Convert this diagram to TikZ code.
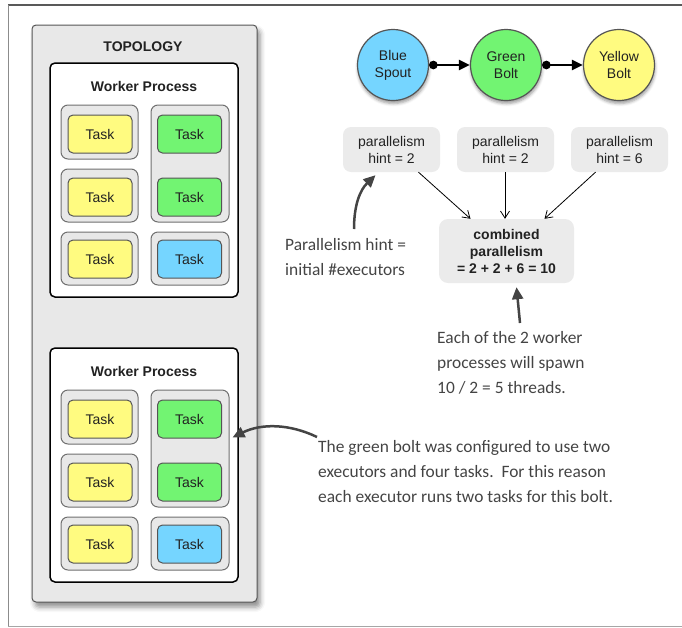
\documentclass[tikz,border=0pt]{standalone}
\usepackage{fontspec}
\setmainfont{Liberation Sans}
\newfontfamily\handfont{Carlito}
\usetikzlibrary{shadows,shadows.blur,arrows.meta}
\definecolor{boxgray}{HTML}{E8E8E8}
\definecolor{hintgray}{HTML}{EBEBEB}
\definecolor{taskyellow}{HTML}{FFFB80}
\definecolor{taskgreen}{HTML}{72F472}
\definecolor{taskblue}{HTML}{75D5FF}
\definecolor{edgegray}{HTML}{555555}
\definecolor{execedge}{HTML}{707070}
\definecolor{handgray}{HTML}{444444}
\definecolor{textdark}{HTML}{222222}
\tikzset{
  topo/.style={draw=edgegray, line width=1pt, fill=boxgray, rounded corners=4pt,
    minimum width=225pt, minimum height=577pt, inner sep=0pt,
    blur shadow={shadow xshift=3pt, shadow yshift=-5pt, shadow blur radius=5pt, shadow opacity=45}},
  wpbox/.style={draw=black, line width=1.5pt, fill=white, rounded corners=5pt,
    minimum width=188pt, minimum height=234pt, inner sep=0pt},
  titletext/.style={font=\fontsize{14}{17}\selectfont\bfseries, text=textdark, inner sep=0pt},
  execbox/.style={draw=execedge, line width=1pt, fill=boxgray, rounded corners=7pt,
    inner sep=0pt},
  taskbox/.style={draw=edgegray, line width=1pt, rounded corners=5pt,
    minimum width=64pt, minimum height=38pt, inner sep=0pt,
    font=\fontsize{14}{17}\selectfont, text=textdark},
  compnode/.style={circle, draw=edgegray, line width=1.2pt, minimum size=71pt, inner sep=0pt,
    align=center, font=\fontsize{14}{17}\selectfont, text=textdark,
    blur shadow={shadow xshift=0.5pt, shadow yshift=-3pt, shadow blur radius=3pt, shadow opacity=40}},
  flowarrow/.style={line width=2.5pt, {Circle[length=8.5pt]}-{Triangle[length=11pt,width=10pt]}},
  hintbox/.style={fill=hintgray, rounded corners=8pt, minimum width=97pt, minimum height=45pt,
    inner sep=0pt, align=center, font=\fontsize{14}{17}\selectfont, text=textdark},
  combbox/.style={fill=hintgray, rounded corners=9pt, minimum width=135pt, minimum height=64pt,
    inner sep=0pt, align=center, font=\fontsize{14}{17}\selectfont\bfseries, text=textdark},
  thinarrow/.style={line width=0.8pt, -{Straight Barb[length=7pt,width=9pt]}},
  handtext/.style={font=\handfont\fontsize{17.4}{25}\selectfont, text=handgray, align=left, inner sep=0pt},
  handarrow/.style={draw=handgray, line width=2.5pt, -{Triangle[length=12pt,width=11pt]}}
}
\begin{document}
\begin{tikzpicture}[x=1pt,y=-1pt]
\useasboundingbox (0,0) rectangle (682,627);
% frame lines
\draw[draw=black!65, line width=1.2pt] (682,5) -- (8,5);
\draw[draw=black!45, line width=1pt] (8,5) -- (8,626);
\draw[draw=black!35, line width=1pt] (8,626) -- (682,626);

% topology
\node[topo] (topo) at (144.5,313.5) {};
\node[titletext] (topotitle) at (143,47) {TOPOLOGY};

\foreach \off/\s in {0/a,285/b}{
  \node[wpbox] (wp\s) at (144,{180+\off}) {};
  \node[titletext] (wptitle\s) at (144,{86+\off}) {Worker Process};
  \node[execbox, minimum width=77pt, minimum height=54pt] (exla\s) at (99.5,{132+\off}) {};
  \node[execbox, minimum width=77pt, minimum height=53pt] (exlb\s) at (99.5,{195.5+\off}) {};
  \node[execbox, minimum width=77pt, minimum height=53pt] (exlc\s) at (99.5,{258.5+\off}) {};
  \node[execbox, minimum width=78pt, minimum height=117pt] (exra\s) at (190,{163.5+\off}) {};
  \node[execbox, minimum width=78pt, minimum height=53pt] (exrc\s) at (190,{258.5+\off}) {};
  \node[taskbox, fill=taskyellow] (tla\s) at (100,{134+\off}) {Task};
  \node[taskbox, fill=taskyellow] (tlb\s) at (100,{197+\off}) {Task};
  \node[taskbox, fill=taskyellow] (tlc\s) at (100,{259+\off}) {Task};
  \node[taskbox, fill=taskgreen] (tra\s) at (189.5,{134+\off}) {Task};
  \node[taskbox, fill=taskgreen] (trb\s) at (189.5,{197+\off}) {Task};
  \node[taskbox, fill=taskblue] (trc\s) at (189.5,{259+\off}) {Task};
}

% components
\node[compnode, fill=taskblue] (blue) at (393,65) {Blue\\Spout};
\node[compnode, fill=taskgreen] (green) at (506,65) {Green\\Bolt};
\node[compnode, fill=taskyellow] (yellow) at (619,65) {Yellow\\Bolt};
\draw[flowarrow] (blue) -- (green);
\draw[flowarrow] (green) -- (yellow);

% hints
\node[hintbox] (h1) at (391.5,149.5) {parallelism\\hint = 2};
\node[hintbox] (h2) at (505.5,149.5) {parallelism\\hint = 2};
\node[hintbox] (h3) at (619.5,149.5) {parallelism\\hint = 6};
\node[combbox] (comb) at (506.5,251) {combined\\parallelism\\= 2 + 2 + 6 = 10};
\draw[thinarrow] ([xshift=27pt]h1.south) -- ([xshift=-36pt]comb.north);
\draw[thinarrow] ([xshift=-0.5pt]h2.south) -- ([xshift=-1.5pt]comb.north);
\draw[thinarrow] ([xshift=-24pt]h3.south) -- ([xshift=38pt]comb.north);

% hand notes
\node[handtext, anchor=north west] (hintnote) at (285,238) {Parallelism hint =\\initial \#executors};
\node[handtext, anchor=north west] (eachnote) at (437,331) {Each of the 2 worker\\processes will spawn\\10 / 2 = 5 threads.};
\node[handtext, anchor=north west] (greennote) at (318,440) {The green bolt was configured to use two\\executors and four tasks.\ \ For this reason\\each executor runs two tasks for this bolt.};

\coordinate (hintstart) at (354,229);
\coordinate (eachstart) at (520,323);
\coordinate (greenstart) at (317,437);
\draw[handarrow] (hintstart) .. controls (354,205) and (360,190) .. ([xshift=-16pt,yshift=-3pt]h1.south);
\draw[handarrow] (eachstart) -- ([xshift=10pt,yshift=-4pt]comb.south);
\draw[handarrow] (greenstart) .. controls (290,424) and (262,423) .. ([xshift=3pt,yshift=11pt]exrab.east);
\end{tikzpicture}
\end{document}
